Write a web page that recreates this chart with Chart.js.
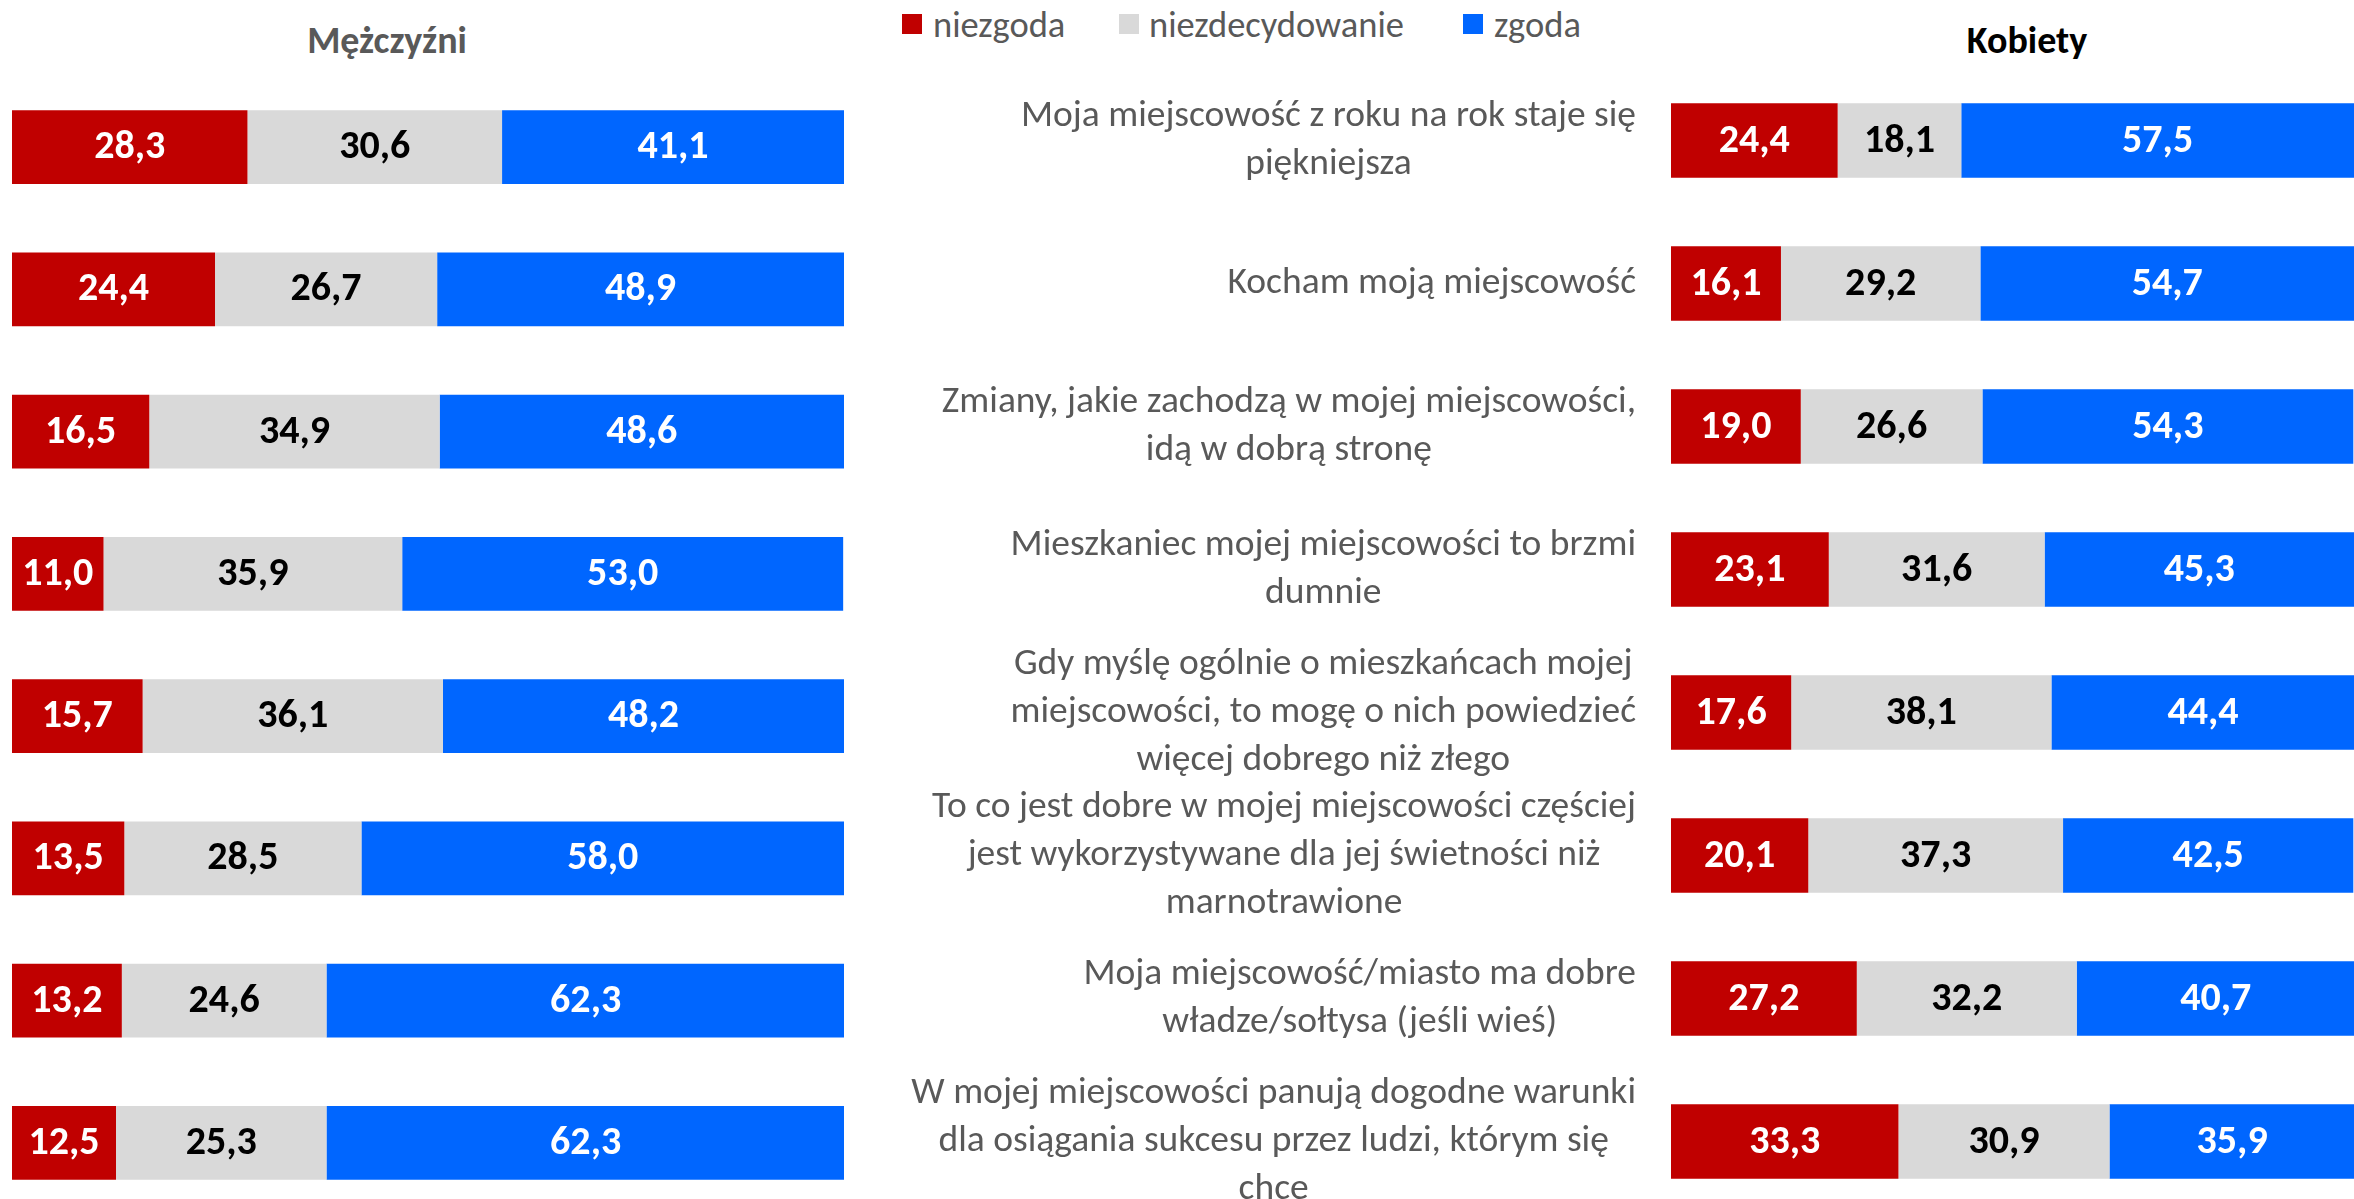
<!DOCTYPE html>
<html lang="pl">
<head>
<meta charset="utf-8">
<script src="https://cdn.jsdelivr.net/npm/chart.js@4.4.1/dist/chart.umd.min.js"></script>
<style>
  html, body { margin: 0; padding: 0; background: #fff; overflow: hidden; }
  body { width: 2354px; height: 1199px; position: relative; font-family: Carlito, Calibri, Lato, sans-serif; }
  .title { position: absolute; top: 40px; font-weight: bold; font-size: 38px; transform: translate(-50%, -50%); white-space: nowrap; }
  #title-m { left: 387px; color: #595959; }
  #title-k { left: 2027px; color: #000; }
  .lg-box { position: absolute; top: 14px; width: 20px; height: 20px; }
  .lg-text { position: absolute; top: 24px; transform: translateY(-50%); font-size: 36.5px; color: #595959; white-space: nowrap; }
  #wrap-m { position: absolute; left: 0; top: 0; width: 870px; height: 1220px; }
  #wrap-k { position: absolute; left: 880px; top: 0; width: 1474px; height: 1220px; }
</style>
</head>
<body>
<div class="title" id="title-m">Mężczyźni</div>
<div class="title" id="title-k">Kobiety</div>
<div id="legend"></div>
<div id="wrap-m"><canvas id="chart-m"></canvas></div>
<div id="wrap-k"><canvas id="chart-k"></canvas></div>
<script>
const FONT = 'Carlito, Calibri, Lato, sans-serif';

const SERIES = ['niezgoda', 'niezdecydowanie', 'zgoda'];
const COLORS = ['#C00000', '#D9D9D9', '#0066FF'];
const LABEL_COLORS = ['#FFFFFF', '#000000', '#FFFFFF'];

const STATEMENTS = [
  ['Moja miejscowość z roku na rok staje się', 'piękniejsza'],
  ['Kocham moją miejscowość'],
  ['Zmiany, jakie zachodzą w mojej miejscowości,', 'idą w dobrą stronę'],
  ['Mieszkaniec mojej miejscowości to brzmi', 'dumnie'],
  ['Gdy myślę ogólnie o mieszkańcach mojej', 'miejscowości, to mogę o nich powiedzieć', 'więcej dobrego niż złego'],
  ['To co jest dobre w mojej miejscowości częściej', 'jest wykorzystywane dla jej świetności niż', 'marnotrawione'],
  ['Moja miejscowość/miasto ma dobre', 'władze/sołtysa (jeśli wieś)'],
  ['W mojej miejscowości panują dogodne warunki', 'dla osiągania sukcesu przez ludzi, którym się', 'chce']
];

const MEN_DISAGREE = [28.3, 24.4, 16.5, 11.0, 15.7, 13.5, 13.2, 12.5];
const MEN_UNDECIDED = [30.6, 26.7, 34.9, 35.9, 36.1, 28.5, 24.6, 25.3];
const MEN_AGREE = [41.1, 48.9, 48.6, 53.0, 48.2, 58.0, 62.3, 62.3];

const WOMEN_DISAGREE = [24.4, 16.1, 19.0, 23.1, 17.6, 20.1, 27.2, 33.3];
const WOMEN_UNDECIDED = [18.1, 29.2, 26.6, 31.6, 38.1, 37.3, 32.2, 30.9];
const WOMEN_AGREE = [57.5, 54.7, 54.3, 45.3, 44.4, 42.5, 40.7, 35.9];

function fmt(v) {
  return v.toFixed(1).replace('.', ',');
}

// legend in the middle of the top
const LEGEND_POS = [[902, 933], [1119, 1149], [1463, 1494]];
const legendEl = document.getElementById('legend');
SERIES.forEach((name, i) => {
  legendEl.insertAdjacentHTML('beforeend',
    `<div class="lg-box" style="left:${LEGEND_POS[i][0]}px;background:${COLORS[i]}"></div>` +
    `<div class="lg-text" style="left:${LEGEND_POS[i][1]}px">${name}</div>`);
});

const valueLabels = {
  id: 'valueLabels',
  afterDatasetsDraw(chart) {
    const ctx = chart.ctx;
    ctx.save();
    ctx.font = 'bold 40px ' + FONT;
    ctx.textAlign = 'center';
    ctx.textBaseline = 'middle';
    chart.data.datasets.forEach((ds, di) => {
      chart.getDatasetMeta(di).data.forEach((bar, i) => {
        const p = bar.getProps(['x', 'y', 'base'], true);
        ctx.fillStyle = LABEL_COLORS[di];
        ctx.fillText(fmt(ds.data[i]), (p.x + p.base) / 2, p.y + 1);
      });
    });
    ctx.restore();
  }
};

const categoryLabels = {
  id: 'categoryLabels',
  afterDraw(chart, args, opts) {
    if (!opts.show) return;
    const { ctx, chartArea, scales } = chart;
    ctx.save();
    ctx.font = opts.size + 'px ' + FONT;
    ctx.fillStyle = '#595959';
    ctx.textAlign = 'center';
    ctx.textBaseline = 'middle';
    const right = chartArea.left - opts.gap;
    STATEMENTS.forEach((lines, i) => {
      const y = scales.y.getPixelForValue(i);
      const w = Math.max(...lines.map(l => ctx.measureText(l).width));
      const cx = right - w / 2;
      lines.forEach((l, k) => ctx.fillText(l, cx, y + (k - (lines.length - 1) / 2) * opts.lineHeight));
    });
    ctx.restore();
  }
};

function makeChart(id, data, padding, showLabels) {
  return new Chart(document.getElementById(id), {
    type: 'bar',
    data: {
      labels: STATEMENTS.map(s => s.join(' ')),
      datasets: data.map((d, i) => ({
        label: SERIES[i],
        data: d,
        backgroundColor: COLORS[i],
        borderWidth: 0,
        barPercentage: 0.52,
        categoryPercentage: 1
      }))
    },
    options: {
      indexAxis: 'y',
      responsive: true,
      maintainAspectRatio: false,
      animation: false,
      layout: { padding },
      plugins: {
        legend: { display: false },
        tooltip: { enabled: false },
        categoryLabels: { show: showLabels, size: 37.5, lineHeight: 48, gap: 35 }
      },
      scales: {
        x: { stacked: true, min: 0, max: 100, display: false },
        y: { stacked: true, display: false }
      }
    },
    plugins: [valueLabels, categoryLabels]
  });
}

makeChart('chart-m', [MEN_DISAGREE, MEN_UNDECIDED, MEN_AGREE],
  { left: 12, right: 26, top: 76, bottom: 6 }, false);
makeChart('chart-k', [WOMEN_DISAGREE, WOMEN_UNDECIDED, WOMEN_AGREE],
  { left: 791, right: 0, top: 69, bottom: 7 }, true);
</script>
</body>
</html>
